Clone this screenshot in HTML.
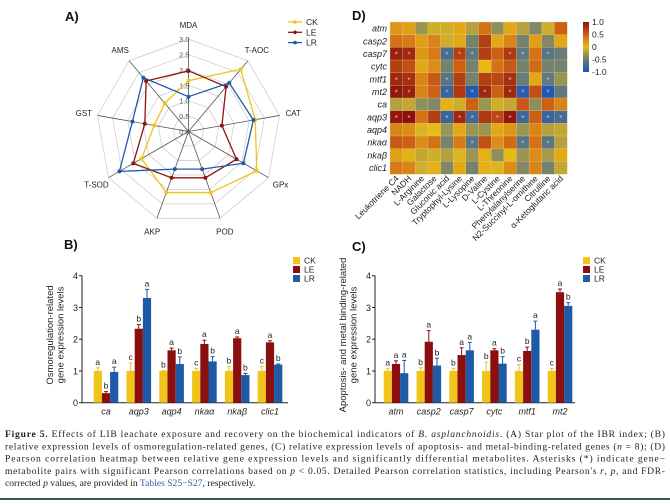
<!DOCTYPE html>
<html><head><meta charset="utf-8">
<style>
body{margin:0;background:#fff;}
#wrap{position:relative;width:670px;height:504px;overflow:hidden;background:#fff;font-family:"Liberation Sans",sans-serif;}
svg{position:absolute;left:0;top:0;}
#rule{position:absolute;left:0;top:498px;width:670px;height:2px;background:#2f5e4b;}
</style></head>
<body>
<div id="wrap">
<svg id="svg" width="670" height="504">
<g font-family="Liberation Serif, serif" font-size="9.6" fill="#222">
<text x="5" y="437" textLength="660" lengthAdjust="spacing"><tspan font-weight="bold">Figure 5.</tspan> Effects of LIB leachate exposure and recovery on the biochemical indicators of <tspan font-style="italic">B. asplanchnoidis</tspan>. (A) Star plot of the IBR index; (B)</text>
<text x="5" y="449.3" textLength="660" lengthAdjust="spacing">relative expression levels of osmoregulation-related genes, (C) relative expression levels of apoptosis- and metal-binding-related genes (<tspan font-style="italic">n</tspan> = 8); (D)</text>
<text x="5" y="461.6" textLength="660" lengthAdjust="spacing">Pearson correlation heatmap between relative gene expression levels and significantly differential metabolites. Asterisks (*) indicate gene−</text>
<text x="5" y="473.9" textLength="660" lengthAdjust="spacing">metabolite pairs with significant Pearson correlations based on <tspan font-style="italic">p</tspan> &lt; 0.05. Detailed Pearson correlation statistics, including Pearson's <tspan font-style="italic">r</tspan>, <tspan font-style="italic">p</tspan>, and FDR-</text>
<text x="5" y="486.2">corrected <tspan font-style="italic">p</tspan> values, are provided in <tspan fill="#2a63a8">Tables S25−S27</tspan>, respectively.</text>
</g>
</svg>
<div id="rule"></div>
</div>
<script>
// ---- Radar data (A)
const radarAxes = ["MDA","T-AOC","CAT","GPx","POD","AKP","T-SOD","GST","AMS"];
const radarCK = [1.65,2.64,2.2,2.56,2.11,2.11,1.76,1.13,1.2];
const radarLE = [1.97,1.9,1.1,1.8,1.6,1.6,2.07,1.44,2.14];
const radarLR = [1.13,2.06,2.14,2.06,1.3,1.3,2.59,1.85,2.28];
const radarTicks = ["0.0","0.5","1.0","1.5","2.0","2.5","3.0"];
// ---- Heatmap data (D)
const hmRows = ["atm","casp2","casp7","cytc","mtf1","mt2","ca","aqp3","aqp4","nkaα","nkaβ","clic1"];
const hmCols = ["Leukotriene C4","NADH","L-Arginine","Galactose","Gluconic acid","Tryptophyl-Lysine","L-Lysopine","D-Valine","L-Cystine","L-Threonine","Phenylalanylserine","N2-Succinyl-L-ornithine","Citrulline","α-Ketoglutaric acid"];
const hm_atm  =[0.2,0.15,-0.3,-0.1,-0.1,0.1,-0.2,0.4,-0.35,0.1,-0.2,-0.4,-0.1,0.5];
const hm_casp2=[0.4,0.35,0.15,0.3,-0.1,0.1,-0.45,0.7,0.1,0.3,-0.45,0.15,-0.4,0.1];
const hm_casp7=[0.9,0.85,0.2,0.35,-0.7,0.7,-0.55,0.7,0.5,0.75,-0.55,0.4,-0.6,-0.5];
const hm_cytc =[0.7,0.6,0.1,0.25,-0.45,0.5,-0.45,0.0,0.4,0.55,-0.45,0.45,-0.45,-0.45];
const hm_mtf1 =[0.85,0.8,0.3,0.55,-0.6,0.7,-0.45,0.7,0.65,0.8,-0.5,0.1,-0.55,-0.3];
const hm_mt2  =[0.95,0.9,0.3,0.5,-0.8,0.75,-0.95,0.85,0.5,0.85,-0.9,0.6,-0.95,-0.55];
const hm_ca   =[-0.2,-0.15,-0.35,-0.4,0.05,-0.1,0.5,-0.3,-0.1,-0.15,0.55,-0.35,0.5,0.3];
const hm_aqp3 =[0.95,1.0,0.4,0.7,-0.8,0.85,-0.75,0.75,0.65,0.95,-0.75,0.5,-0.8,-0.7];
const hm_aqp4 =[0.3,0.25,-0.05,0.0,-0.3,0.1,-0.3,-0.3,0.1,0.2,-0.3,0.3,-0.2,-0.15];
const hm_nkaa =[0.55,0.5,0.25,0.4,-0.45,0.35,-0.6,0.6,0.25,0.45,-0.6,0.4,-0.6,-0.2];
const hm_nkab =[0.15,0.05,-0.15,-0.1,-0.2,-0.05,-0.3,0.05,-0.35,0.0,-0.3,0.25,-0.25,0.1];
const hm_clic1=[0.35,0.3,-0.1,0.05,-0.4,0.1,-0.45,0.05,-0.05,0.25,-0.4,0.3,-0.45,-0.15];
const hmStars = {2:[0,1,4,5,6,9,10,12],4:[0,1,4,9,12],5:[0,1,4,6,7,9,10,12],7:[0,1,4,5,6,8,9,10,12,13],9:[6,10,12]};
const cbTicks = ["1.0","0.5","0","-0.5","-1.0"];
// ---- Bar data (B)
const bGenes = ["ca","aqp3","aqp4","nkaα","nkaβ","clic1"];
const bCK = [1.0,1.0,1.0,1.0,1.0,1.0];
const bLE = [0.3,2.33,1.65,1.85,2.03,1.9];
const bLR = [0.97,3.3,1.22,1.3,0.87,1.2];
const bErrCK = [0.1,0.25,0.02,0.08,0.14,0.14];
const bErrLE = [0.05,0.13,0.07,0.12,0.04,0.05];
const bErrLR = [0.15,0.27,0.22,0.15,0.05,0.02];
const bLetCK = ["a","c","b","c","b","c"];
const bLetLE = ["b","b","a","a","a","a"];
const bLetLR = ["a","a","b","b","b","b"];
// ---- Bar data (C)
const cGenes = ["atm","casp2","casp7","cytc","mtf1","mt2"];
const cCK = [1.0,1.0,1.0,1.0,1.0,1.0];
const cLE = [1.22,1.92,1.5,1.65,1.63,3.48];
const cLR = [0.93,1.17,1.65,1.23,2.3,3.05];
const cErrCK = [0.07,0.1,0.07,0.28,0.2,0.08];
const cErrLE = [0.1,0.35,0.23,0.05,0.12,0.1];
const cErrLR = [0.4,0.23,0.25,0.22,0.27,0.1];
const cLetCK = ["a","b","b","b","c","c"];
const cLetLE = ["a","a","a","a","b","a"];
const cLetLR = ["a","b","a","b","a","b"];
const yTicks = [0,1,2,3,4];

const NS="http://www.w3.org/2000/svg";
const svg=document.getElementById('svg');
function el(tag,attrs,parent,text){const e=document.createElementNS(NS,tag);for(const k in attrs)e.setAttribute(k,attrs[k]);if(text!==undefined)e.textContent=text;(parent||svg).appendChild(e);return e;}
function grp(name){const g=el('g',{});return g;}

[["A)",65,21],["D)",352,20],["B)",64,249],["C)",352,251]].forEach(p=>{
  const t=el('text',{x:p[1],y:p[2],'font-size':13,'font-weight':'bold',fill:'#111'},svg,p[0]);
  
  
});

// ===== Radar
(function(){
  const g=grp('radar-chart');
  const cx=188.5,cy=131.5,unit=30.8;
  const n=radarAxes.length;
  const ang=i=>(-90+360/n*i)*Math.PI/180;
  const pt=(i,v)=>[cx+Math.cos(ang(i))*v*unit,cy+Math.sin(ang(i))*v*unit];
  for(let k=1;k<radarTicks.length;k++){
    const v=parseFloat(radarTicks[k]);
    const pts=radarAxes.map((a,i)=>pt(i,v).join(',')).join(' ');
    const p=el('polygon',{points:pts,fill:'none',stroke:'#cfcfcf','stroke-width':0.8},g);
    
    
  }
  radarAxes.forEach((a,i)=>{
    const e=pt(i,3);
    const l=el('line',{x1:cx,y1:cy,x2:e[0],y2:e[1],stroke:'#555','stroke-width':0.8},g);
    
    
    const lp=pt(i,3.45);
    const t=el('text',{x:lp[0],y:lp[1]+3,'font-size':8,'text-anchor':'middle',fill:'#222'},g,a);
    
    
  });
  radarTicks.forEach(s=>{
    const p=pt(0,parseFloat(s));
    const t=el('text',{x:cx+1,y:p[1]+3,'font-size':7.5,'text-anchor':'end',fill:'#555'},g,s);
    
    
  });
  const series=[["CK",radarCK,"#f0c419"],["LE",radarLE,"#8b1414"],["LR",radarLR,"#1f5aa6"]];
  series.forEach(s=>{
    const pts=s[1].map((v,i)=>pt(i,v).join(',')).join(' ');
    const pg=el('polygon',{points:pts,fill:'none',stroke:s[2],'stroke-width':1.3},g);
    
    
    s[1].forEach((v,i)=>{const p=pt(i,v);
      const c=el('circle',{cx:p[0],cy:p[1],r:2,fill:s[2]},g);
      
      });
  });
  series.forEach((s,k)=>{
    const y=22+k*10.3;
    const lg=el('g',{},g);
    
    
    el('line',{x1:288,y1:y,x2:302,y2:y,stroke:s[2],'stroke-width':1.3},lg);
    el('circle',{cx:295,cy:y,r:1.8,fill:s[2]},lg);
    el('text',{x:306,y:y+3,'font-size':8.5,fill:'#222'},lg,s[0]);
  });
})();

// ===== Heatmap
(function(){
  const g=grp('heatmap');
  const data=[hm_atm,hm_casp2,hm_casp7,hm_cytc,hm_mtf1,hm_mt2,hm_ca,hm_aqp3,hm_aqp4,hm_nkaa,hm_nkab,hm_clic1];
  const x0=390,y0=22,cw=177/14,ch=152/12;
  const stops=[[-1,[26,86,184]],[-0.5,[104,124,120]],[0,[232,186,24]],[0.5,[206,96,22]],[1,[139,16,14]]];
  function col(v){v=Math.max(-1,Math.min(1,v));for(let i=0;i<stops.length-1;i++){const a=stops[i],b=stops[i+1];if(v<=b[0]){const t=(v-a[0])/(b[0]-a[0]);const c=a[1].map((x,k)=>Math.round(x+(b[1][k]-x)*t));return 'rgb('+c.join(',')+')';}}return 'rgb(139,16,14)';}
  const xs=j=>x0+j*cw, ys=i=>y0+i*ch;
  data.forEach((row,i)=>{row.forEach((v,j)=>{
    const r=el('rect',{x:xs(j),y:ys(i),width:cw+0.3,height:ch+0.3,fill:col(v),stroke:'#e8d9a0','stroke-width':0.3},g);
    
    
  });});
  for(const k in hmStars){hmStars[k].forEach(j=>{
    const v=data[k][j];
    const t=el('text',{x:xs(j)+cw/2,y:ys(+k)+ch/2+4,'font-size':8,'text-anchor':'middle',fill:v>0?'#f2b0a0':'#a8c8e8'},g,'*');
    
    
  });}
  hmRows.forEach((r,i)=>{
    const t=el('text',{x:387,y:ys(i)+ch/2+3.3,'font-size':9,'font-style':'italic','text-anchor':'end',fill:'#222'},g,r);
    
    
  });
  hmCols.forEach((c,j)=>{
    const x=xs(j)+cw/2+3,y=179;
    const t=el('text',{x:x,y:y,'font-size':8.5,'text-anchor':'end',fill:'#222',transform:'rotate(-45 '+x+' '+y+')'},g,c);
    
    
  });
  const defs=el('defs',{},g);
  const lgd=el('linearGradient',{id:'cb',x1:0,y1:0,x2:0,y2:1},defs);
  [1,0.5,0,-0.5,-1].forEach((v,k)=>el('stop',{offset:(k*25)+'%','stop-color':col(v)},lgd));
  const cb=el('rect',{x:583,y:22,width:6,height:50,fill:'url(#cb)'},g);
  
  
  cbTicks.forEach((s,k)=>{
    const t=el('text',{x:592,y:25+k*12.5,'font-size':8.5,fill:'#222'},g,s);
    
    
  });
})();

// ===== Bar charts
function barChart(name,axX,axEnd,c0,genes,vals,errs,lets,ylab,legX){
  const g=grp(name);
  const yb=402.7,unit=31.75,sp=32.8,bw=8.2;
  const ys=v=>yb-v*unit;
  const cols=["#f0c419","#8b0f0f","#1f5aa6"];
  const names=["CK","LE","LR"];
  el('line',{x1:axX,y1:ys(4),x2:axX,y2:yb,stroke:'#222','stroke-width':1},g);
  el('line',{x1:axX,y1:yb,x2:axEnd,y2:yb,stroke:'#222','stroke-width':1},g);
  yTicks.forEach(v=>{
    el('line',{x1:axX-3,y1:ys(v),x2:axX,y2:ys(v),stroke:'#222'},g);
    const t=el('text',{x:axX-4,y:ys(v)+3.5,'font-size':9,'text-anchor':'end',fill:'#222'},g,String(v));
    
    
  });
  genes.forEach((gn,i)=>{
    const c=c0+i*sp;
    for(let s=0;s<3;s++){
      const v=vals[s][i],e=errs[s][i];
      const x=c+(s-1)*bw-bw/2;
      const r=el('rect',{x:x,y:ys(v),width:bw,height:v*unit,fill:cols[s]},g);
      
      
      const xm=x+bw/2;
      el('line',{x1:xm,y1:ys(v),x2:xm,y2:ys(v+e),stroke:cols[s],'stroke-width':1},g);
      el('line',{x1:xm-2,y1:ys(v+e),x2:xm+2,y2:ys(v+e),stroke:cols[s],'stroke-width':1},g);
      const t=el('text',{x:xm,y:ys(v+e)-3,'font-size':8.5,'text-anchor':'middle',fill:'#222'},g,lets[s][i]);
      
      
    }
    const t=el('text',{x:c,y:yb+12,'font-size':9,'font-style':'italic','text-anchor':'middle',fill:'#222'},g,gn);
    
    
  });
  const yl=el('text',{x:0,y:0,'font-size':9.5,'text-anchor':'middle',fill:'#222',transform:'translate('+(axX-18)+' 335) rotate(-90)'},g);
  
  
  el('tspan',{x:0,dy:-11},yl,ylab[0]);
  el('tspan',{x:0,dy:10.5},yl,ylab[1]);
  names.forEach((n,k)=>{
    const lg=el('g',{},g);
    
    
    el('rect',{x:legX,y:257+k*9,width:7,height:7,fill:cols[k]},lg);
    el('text',{x:legX+11,y:263.5+k*9,'font-size':8.5,fill:'#222'},lg,n);
  });
}
barChart('bar-chart-osmoregulation',82,288,106,bGenes,[bCK,bLE,bLR],[bErrCK,bErrLE,bErrLR],[bLetCK,bLetLE,bLetLR],["Osmoregulation-related","gene expression levels"],293);
barChart('bar-chart-apoptosis',375,575,396,cGenes,[cCK,cLE,cLR],[cErrCK,cErrLE,cErrLR],[cLetCK,cLetLE,cLetLR],["Apoptosis- and metal binding-related","gene expression levels"],583);
</script>
</body></html>
